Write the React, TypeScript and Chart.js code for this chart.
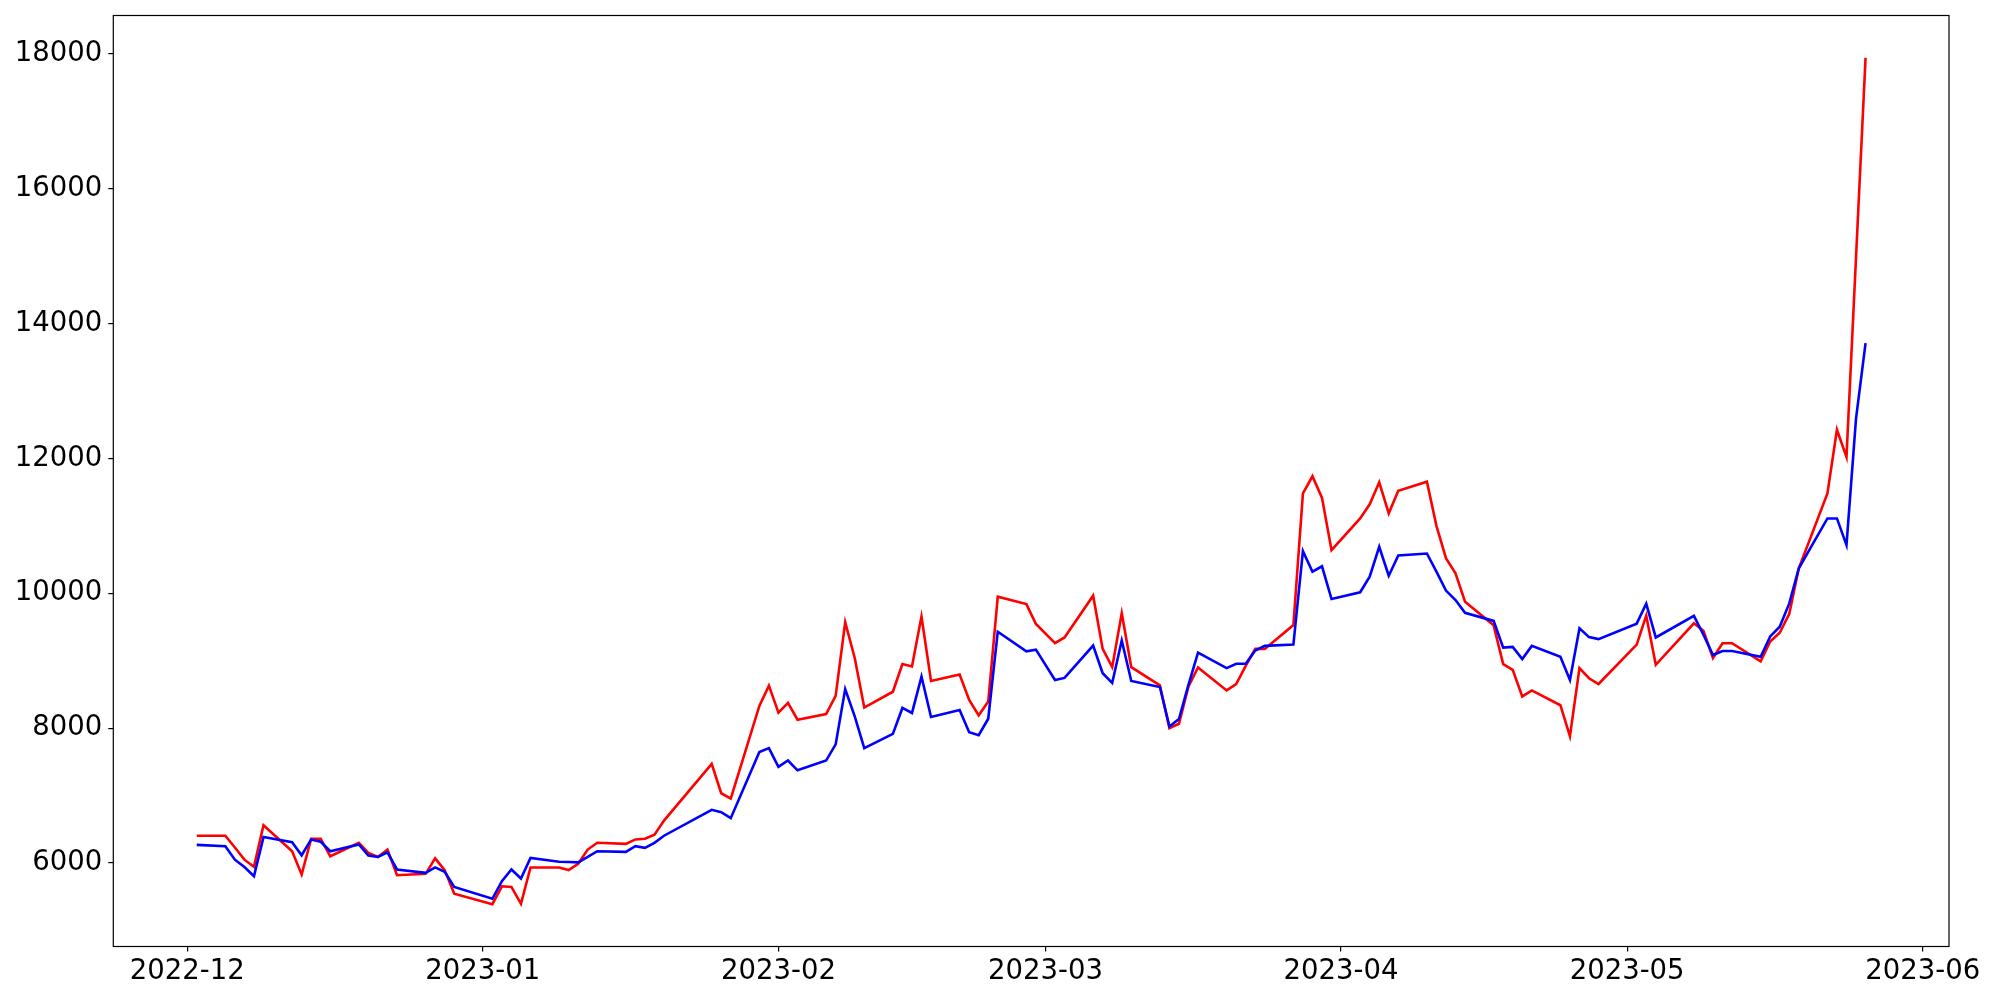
import React, { useEffect, useRef } from "react";
import { Chart, registerables } from "chart.js";

Chart.register(...registerables);

// Trading days (Dec 2022 – May 2023)
const dates: string[] = [
  "2022-12-02", "2022-12-05", "2022-12-06", "2022-12-07", "2022-12-08", "2022-12-09",
  "2022-12-12", "2022-12-13", "2022-12-14", "2022-12-15", "2022-12-16",
  "2022-12-19", "2022-12-20", "2022-12-21", "2022-12-22", "2022-12-23",
  "2022-12-26", "2022-12-27", "2022-12-28", "2022-12-29",
  "2023-01-02", "2023-01-03", "2023-01-04", "2023-01-05", "2023-01-06",
  "2023-01-09", "2023-01-10", "2023-01-11", "2023-01-12", "2023-01-13",
  "2023-01-16", "2023-01-17", "2023-01-18", "2023-01-19", "2023-01-20",
  "2023-01-25", "2023-01-26", "2023-01-27", "2023-01-30", "2023-01-31",
  "2023-02-01", "2023-02-02", "2023-02-03",
  "2023-02-06", "2023-02-07", "2023-02-08", "2023-02-09", "2023-02-10",
  "2023-02-13", "2023-02-14", "2023-02-15", "2023-02-16", "2023-02-17",
  "2023-02-20", "2023-02-21", "2023-02-22", "2023-02-23", "2023-02-24",
  "2023-02-27", "2023-02-28",
  "2023-03-02", "2023-03-03",
  "2023-03-06", "2023-03-07", "2023-03-08", "2023-03-09", "2023-03-10",
  "2023-03-13", "2023-03-14", "2023-03-15", "2023-03-16", "2023-03-17",
  "2023-03-20", "2023-03-21", "2023-03-22", "2023-03-23", "2023-03-24",
  "2023-03-27", "2023-03-28", "2023-03-29", "2023-03-30", "2023-03-31",
  "2023-04-03", "2023-04-04", "2023-04-05", "2023-04-06", "2023-04-07",
  "2023-04-10", "2023-04-11", "2023-04-12", "2023-04-13", "2023-04-14",
  "2023-04-17", "2023-04-18", "2023-04-19", "2023-04-20", "2023-04-21",
  "2023-04-24", "2023-04-25", "2023-04-26", "2023-04-27", "2023-04-28",
  "2023-05-02", "2023-05-03", "2023-05-04",
  "2023-05-08", "2023-05-09", "2023-05-10", "2023-05-11", "2023-05-12",
  "2023-05-15", "2023-05-16", "2023-05-17", "2023-05-18", "2023-05-19",
  "2023-05-22", "2023-05-23", "2023-05-24", "2023-05-25", "2023-05-26",
];

const redValues: number[] = [
  // Dec
  6405, 6405, 6230, 6050, 5945, 6560, 6175, 5830, 6360, 6360, 6100,
  6300, 6150, 6090, 6200, 5820, 5840, 6070, 5895, 5545,
  // Jan
  5390, 5655, 5645, 5395, 5935, 5935, 5895, 5990, 6200, 6300,
  6285, 6350, 6360, 6420, 6630, 7470, 7035, 6955, 8330, 8630,
  // Feb
  8230, 8375, 8125, 8210, 8480, 9570, 9040, 8305, 8540, 8950,
  8915, 9655, 8700, 8795, 8420, 8190, 8395, 9950, 9840, 9545,
  // Mar
  9260, 9345, 9965, 9175, 8905, 9705, 8905, 8635, 8000, 8065, 8620,
  8900, 8560, 8655, 8925, 9175, 9175, 9530, 11480, 11735, 11415, 10640,
  // Apr
  11110, 11320, 11645, 11185, 11520, 11655, 11000, 10520, 10295, 9875,
  9525, 8950, 8865, 8470, 8560, 8340, 7880, 8890, 8740, 8655,
  // May
  9240, 9670, 8940, 9555, 9445, 9040, 9260, 9260, 8990, 9285,
  9415, 9695, 10370, 11480, 12425, 12020, 14980, 17940,
];

const blueValues: number[] = [
  // Dec
  6270, 6250, 6050, 5940, 5805, 6385, 6310, 6115, 6350, 6315, 6175,
  6275, 6110, 6090, 6160, 5905, 5855, 5935, 5870, 5645,
  // Jan
  5470, 5730, 5905, 5770, 6075, 6020, 6015, 6010, 6090, 6175,
  6165, 6250, 6225, 6300, 6405, 6790, 6755, 6665, 7645, 7705,
  // Feb
  7425, 7520, 7375, 7520, 7760, 8580, 8175, 7705, 7915, 8300,
  8225, 8765, 8165, 8270, 7940, 7895, 8140, 9430, 9140, 9165,
  // Mar
  8715, 8745, 9225, 8815, 8670, 9300, 8700, 8610, 8025, 8135, 8645,
  9120, 8890, 8955, 8955, 9150, 9220, 9240, 10625, 10320, 10400, 9915,
  // Apr
  10015, 10245, 10690, 10260, 10560, 10590, 10320, 10040, 9900, 9710,
  9590, 9195, 9205, 9025, 9220, 9060, 8715, 9480, 9350, 9320,
  // May
  9550, 9845, 9345, 9665, 9385, 9085, 9145, 9145, 9060, 9360,
  9505, 9850, 10370, 11110, 11110, 10715, 12590, 13710,
];

const monthTickLabels: string[] = [
  "2022-12", "2023-01", "2023-02", "2023-03", "2023-04", "2023-05", "2023-06",
];
const yTickValues: number[] = [6000, 8000, 10000, 12000, 14000, 16000, 18000];

const DAY_MS = 86400000;
const BASE_MS = Date.UTC(2022, 11, 1);
function toDay(s: string): number {
  const parts = s.split("-").map(Number);
  const y = parts[0];
  const m = parts[1];
  const d = parts.length > 2 ? parts[2] : 1;
  return (Date.UTC(y, m - 1, d) - BASE_MS) / DAY_MS;
}

const FONT = { family: "'DejaVu Sans', sans-serif", size: 27.5 };

const framePlugin = {
  id: "frame",
  afterDraw(chart: any) {
    const { ctx, chartArea } = chart;
    ctx.save();
    ctx.strokeStyle = "#000";
    ctx.lineWidth = 1.2;
    ctx.strokeRect(
      chartArea.left,
      chartArea.top,
      chartArea.right - chartArea.left,
      chartArea.bottom - chartArea.top
    );
    ctx.restore();
  },
};

export default function App() {
  const canvasRef = useRef<HTMLCanvasElement | null>(null);

  useEffect(() => {
    if (!canvasRef.current) return;
    const xs = dates.map(toDay);
    const allVals = redValues.concat(blueValues);
    const vMin = Math.min(...allVals);
    const vMax = Math.max(...allVals);
    const vPad = (vMax - vMin) * 0.05;
    const xMin0 = xs[0];
    const xMax0 = xs[xs.length - 1];
    const xPad = (xMax0 - xMin0) * 0.05;
    const monthTicks = monthTickLabels.map(toDay);

    const chart = new Chart(canvasRef.current, {
      type: "line",
      data: {
        datasets: [
          {
            label: "blue",
            data: xs.map((x, i) => ({ x, y: blueValues[i] })),
            borderColor: "#0000ff",
            backgroundColor: "#0000ff",
            borderWidth: 2.6,
            pointRadius: 0,
            tension: 0,
            fill: false,
          },
          {
            label: "red",
            data: xs.map((x, i) => ({ x, y: redValues[i] })),
            borderColor: "#ff0000",
            backgroundColor: "#ff0000",
            borderWidth: 2.6,
            pointRadius: 0,
            tension: 0,
            fill: false,
          },
        ],
      },
      options: {
        animation: false,
        responsive: false,
        maintainAspectRatio: false,
        devicePixelRatio: 1,
        layout: { padding: { left: 0, top: 15.5, right: 51, bottom: 0 } },
        plugins: {
          legend: { display: false },
          tooltip: { enabled: false },
        },
        scales: {
          x: {
            type: "linear",
            min: xMin0 - xPad,
            max: xMax0 + xPad,
            afterBuildTicks: (scale: any) => {
              scale.ticks = monthTicks.map((v) => ({ value: v }));
            },
            afterFit: (scale: any) => {
              scale.height = 53.5;
              scale.paddingLeft = 0;
              scale.paddingRight = 0;
            },
            ticks: {
              autoSkip: false,
              maxRotation: 0,
              minRotation: 0,
              padding: 4,
              color: "#000",
              font: FONT,
              callback: (_v: any, i: number) => monthTickLabels[i],
            },
            grid: {
              display: true,
              drawOnChartArea: false,
              drawTicks: true,
              tickLength: 5,
              color: "#000",
              lineWidth: 1.2,
            },
            border: { display: false },
          },
          y: {
            type: "linear",
            min: vMin - vPad,
            max: vMax + vPad,
            afterBuildTicks: (scale: any) => {
              scale.ticks = yTickValues.map((v) => ({ value: v }));
            },
            afterFit: (scale: any) => {
              scale.width = 113.3;
              scale.paddingTop = 0;
              scale.paddingBottom = 0;
            },
            ticks: {
              autoSkip: false,
              padding: 6,
              color: "#000",
              font: FONT,
              callback: (v: any) => String(v),
            },
            grid: {
              display: true,
              drawOnChartArea: false,
              drawTicks: true,
              tickLength: 5,
              color: "#000",
              lineWidth: 1.2,
            },
            border: { display: false },
          },
        },
      },
      plugins: [framePlugin],
    } as any);

    return () => {
      chart.destroy();
    };
  }, []);

  return (
    <div
      style={{
        position: "fixed",
        left: 0,
        top: 0,
        width: "2000px",
        height: "1000px",
        background: "#fff",
      }}
    >
      <canvas ref={canvasRef} width={2000} height={1000} style={{ display: "block" }} />
    </div>
  );
}
